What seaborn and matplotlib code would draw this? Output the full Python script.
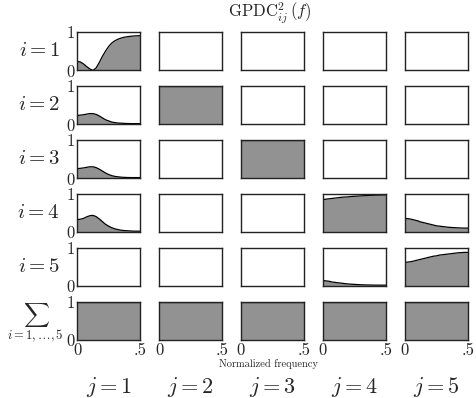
import numpy as np
import matplotlib
matplotlib.use("Agg")
import matplotlib.pyplot as plt
import seaborn as sns

sns.set_style("white")
plt.rcParams['font.family'] = 'serif'
plt.rcParams['font.serif'] = ['cmr10', 'DejaVu Serif']
plt.rcParams['mathtext.fontset'] = 'cm'
plt.rcParams['axes.formatter.use_mathtext'] = True

# --- DATA ---
freq = np.linspace(0, 0.5, 21)

gpdc_1_1 = [0.23, 0.22, 0.17, 0.10, 0.04, 0.00, 0.06, 0.20, 0.36, 0.50, 0.62,
            0.71, 0.77, 0.81, 0.84, 0.86, 0.875, 0.885, 0.893, 0.898, 0.90]
gpdc_2_1 = [0.23, 0.24, 0.25, 0.265, 0.28, 0.28, 0.26, 0.22, 0.17, 0.12, 0.09,
            0.06, 0.045, 0.035, 0.03, 0.025, 0.022, 0.02, 0.02, 0.02, 0.02]
gpdc_3_1 = [0.25, 0.26, 0.27, 0.285, 0.30, 0.30, 0.28, 0.24, 0.19, 0.14, 0.10,
            0.07, 0.05, 0.04, 0.03, 0.025, 0.022, 0.02, 0.02, 0.02, 0.02]
gpdc_4_1 = [0.33, 0.34, 0.36, 0.40, 0.43, 0.44, 0.41, 0.35, 0.28, 0.21, 0.16,
            0.12, 0.09, 0.07, 0.055, 0.045, 0.04, 0.035, 0.03, 0.03, 0.03]
gpdc_4_4 = [0.85, 0.86, 0.87, 0.88, 0.89, 0.90, 0.91, 0.915, 0.92, 0.93, 0.935,
            0.94, 0.945, 0.95, 0.955, 0.96, 0.962, 0.965, 0.967, 0.968, 0.97]
gpdc_4_5 = [0.36, 0.355, 0.34, 0.32, 0.30, 0.27, 0.25, 0.23, 0.21, 0.19, 0.17,
            0.16, 0.15, 0.14, 0.13, 0.125, 0.12, 0.115, 0.112, 0.11, 0.11]
gpdc_5_4 = [0.15, 0.14, 0.13, 0.11, 0.10, 0.09, 0.08, 0.07, 0.06, 0.055, 0.05,
            0.045, 0.04, 0.038, 0.035, 0.033, 0.032, 0.031, 0.03, 0.03, 0.03]
gpdc_5_5 = [0.62, 0.63, 0.64, 0.66, 0.68, 0.70, 0.72, 0.74, 0.76, 0.78, 0.79,
            0.81, 0.82, 0.83, 0.84, 0.85, 0.86, 0.87, 0.875, 0.88, 0.88]
gpdc_full = [1.0] * 21

row_labels = [r"$i=1$", r"$i=2$", r"$i=3$", r"$i=4$", r"$i=5$",
              r"$\sum_{i=1,\ldots,5}$"]
col_labels = [r"$j=1$", r"$j=2$", r"$j=3$", r"$j=4$", r"$j=5$"]

panels = {
    (0, 0): gpdc_1_1, (1, 0): gpdc_2_1, (2, 0): gpdc_3_1, (3, 0): gpdc_4_1,
    (1, 1): gpdc_full, (2, 2): gpdc_full,
    (3, 3): gpdc_4_4, (3, 4): gpdc_4_5, (4, 3): gpdc_5_4, (4, 4): gpdc_5_5,
}
for j in range(5):
    panels[(5, j)] = gpdc_full

fill_color = '#929292'

# --- PLOTTING ---
fig, axes = plt.subplots(6, 5, figsize=(4.76, 3.98), dpi=100)
fig.subplots_adjust(left=0.162, right=0.983, top=0.920, bottom=0.145,
                    wspace=0.30, hspace=0.40)

for i in range(6):
    for j in range(5):
        ax = axes[i, j]
        vals = panels.get((i, j))
        if vals is not None:
            ax.fill_between(freq, 0, vals, color=fill_color, linewidth=0)
            sns.lineplot(x=freq, y=vals, ax=ax, color='black', linewidth=0.9)
        ax.set_xlim(0, 0.5)
        ax.set_ylim(0, 1)
        ax.tick_params(length=0, labelsize=12, pad=2)
        ax.set_xticks([0, 0.5])
        ax.set_yticks([0, 1])
        if j == 0:
            ax.set_yticklabels(['0', '1'])
            if i < 5:
                ax.text(-0.27, 0.5, row_labels[i], transform=ax.transAxes,
                        ha='right', va='center', fontsize=15)
            else:
                ax.text(-0.66, 0.45, row_labels[i], transform=ax.transAxes,
                        ha='center', va='center', fontsize=13)
        else:
            ax.set_yticklabels([])
        if i == 5:
            ax.set_xticklabels(['0', '.5'])
            ax.set_xlabel(col_labels[j], fontsize=16, labelpad=12)
        else:
            ax.set_xticklabels([])
        for sp in ax.spines.values():
            sp.set_color('#222222')
            sp.set_linewidth(1.0)

fig.text(0.567, 0.968, r"$\mathrm{GPDC}^2_{ij}\,(f)$", ha='center',
         va='center', fontsize=12)
fig.text(0.563, 0.086, "Normalized frequency", ha='center', va='center',
         fontsize=7.5)

fig.savefig("out.png", dpi=100)
